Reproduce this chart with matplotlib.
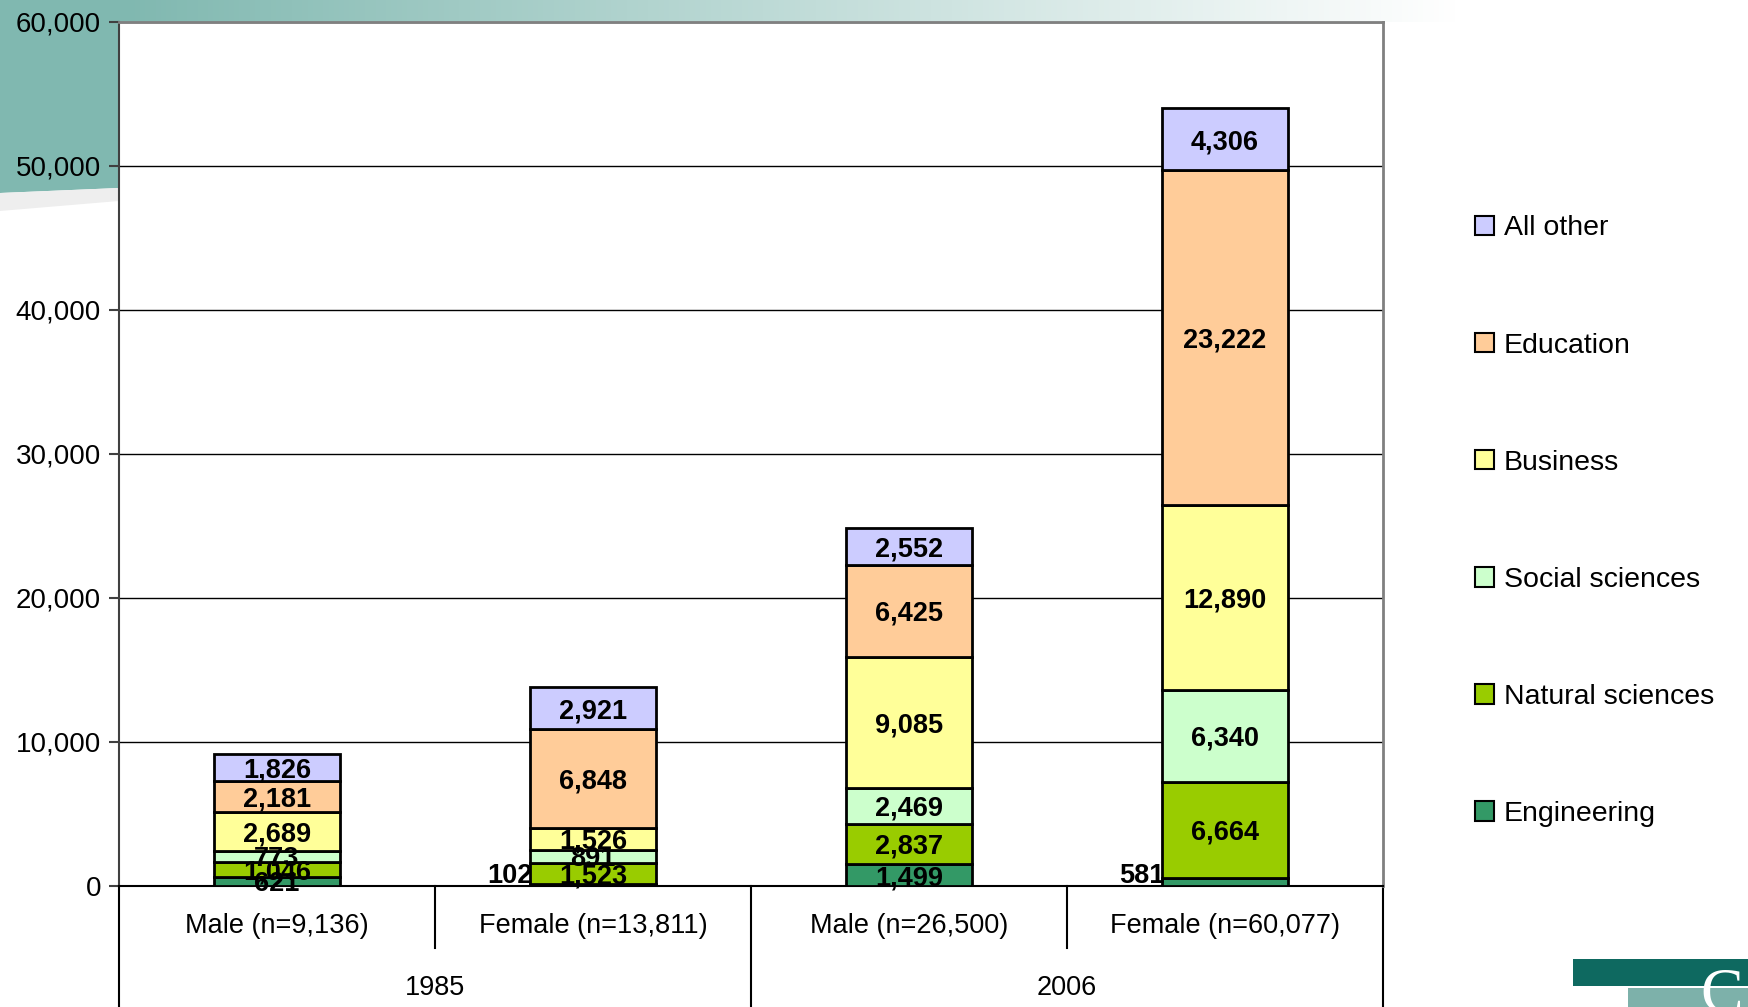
import numpy as np
import matplotlib
matplotlib.use('Agg')
import matplotlib.pyplot as plt
from matplotlib.colors import LinearSegmentedColormap
from matplotlib.patches import Polygon, Rectangle

plt.rcParams['font.family'] = ['Liberation Sans', 'DejaVu Sans']

# data
groups = ['Male (n=9,136)', 'Female (n=13,811)', 'Male (n=26,500)', 'Female (n=60,077)']
years = ['1985', '2006']
fields = ['Engineering', 'Natural sciences', 'Social sciences', 'Business', 'Education', 'All other']
engineering = [621, 102, 1499, 581]
natural = [1046, 1523, 2837, 6664]
social = [773, 891, 2469, 6340]
business = [2689, 1526, 9085, 12890]
education = [2181, 6848, 6425, 23222]
other = [1826, 2921, 2552, 4306]
colors = ['#339966', '#99CC00', '#CCFFCC', '#FFFF99', '#FFCC99', '#CCCCFF']
# the tiny engineering labels sit left of the bar
eng_outside = [False, True, False, True]

fig = plt.figure(figsize=(17.49, 10.07), dpi=100)

# background decoration (pixel coords)
bg = fig.add_axes([0, 0, 1, 1], zorder=-10)
cmap = LinearSegmentedColormap.from_list('band', ['#80B8B0', '#FFFFFF'])
bg.imshow(np.linspace(0, 1, 256).reshape(1, -1), cmap=cmap, extent=[119, 1460, 22, 0], aspect='auto')
bg.add_patch(Polygon([(0, 0), (119, 0), (119, 188), (0, 193)], color='#80B8B0', lw=0))
bg.add_patch(Polygon([(0, 193), (119, 188), (119, 201), (0, 211)], color='#EEEEEE', lw=0))
bg.add_patch(Rectangle((1573, 959), 176, 27, color='#0E6960', lw=0))
bg.add_patch(Rectangle((1628, 988), 121, 19, color='#7DB1AA', lw=0))
bg.text(1700, 1012, 'C', color='white', fontsize=46, family='Liberation Serif', va='baseline')
bg.set_xlim(0, 1749)
bg.set_ylim(1007, 0)
bg.axis('off')

ax = fig.add_axes([0.0680, 0.1202, 0.7227, 0.8580], zorder=1)
ax.set_facecolor('white')

x = np.arange(len(groups))
bottom = np.zeros(len(groups))
series = [engineering, natural, social, business, education, other]
for vals, name, c in zip(series, fields, colors):
    ax.bar(x, vals, 0.4, bottom=bottom, color=c, edgecolor='black', linewidth=2, label=name, zorder=3)
    for i, v in enumerate(vals):
        txt = f'{v:,}'
        if name == 'Engineering' and eng_outside[i]:
            ax.annotate(txt, (x[i] - 0.2, 0), xytext=(2, 2), textcoords='offset points',
                        ha='right', va='baseline', fontsize=19.5, fontweight='bold', zorder=4)
        else:
            ax.text(x[i], bottom[i] + v / 2, txt, ha='center', va='center_baseline',
                    fontsize=19.5, fontweight='bold', zorder=4)
    bottom += np.array(vals)

ax.set_xlim(-0.5, 3.5)
ax.set_ylim(0, 60000)
ax.set_yticks(np.arange(0, 60001, 10000))
ax.yaxis.set_major_formatter(matplotlib.ticker.StrMethodFormatter('{x:,.0f}'))
ax.tick_params(axis='y', labelsize=20, length=7, width=1.5, color='#404040', pad=6)
ax.set_xticks([])
ax.yaxis.grid(True, color='black', lw=1)
ax.set_axisbelow(True)

ax.spines['left'].set_color('#404040')
ax.spines['left'].set_linewidth(1.5)
ax.spines['bottom'].set_color('black')
ax.spines['bottom'].set_linewidth(1.5)
ax.spines['top'].set_color('#808080')
ax.spines['top'].set_linewidth(2)
ax.spines['right'].set_color('#808080')
ax.spines['right'].set_linewidth(2)

# two-level category axis
tr = ax.get_xaxis_transform()
for xs in [-0.5, 1.5, 3.5]:
    ax.plot([xs, xs], [0, -0.15], color='black', lw=1.5, transform=tr, clip_on=False)
for xs in [0.5, 2.5]:
    ax.plot([xs, xs], [0, -0.0718], color='black', lw=1.5, transform=tr, clip_on=False)
for i, g in enumerate(groups):
    ax.text(x[i], -0.0463, g, transform=tr, ha='center', va='center', fontsize=19.5)
for j, yr in enumerate(years):
    ax.text(2 * j + 0.5, -0.118, yr, transform=tr, ha='center', va='center', fontsize=19.5)

handles, labels = ax.get_legend_handles_labels()
leg = fig.legend(handles[::-1], labels[::-1], loc='upper left', bbox_to_anchor=(0.8433, 0.786),
                 frameon=False, fontsize=20.5, borderpad=0, borderaxespad=0,
                 handlelength=0.67, handleheight=0.67, handletextpad=0.35, labelspacing=3.2)
for h in leg.legend_handles:
    h.set_linewidth(1.5)

fig.savefig('out.png', dpi=100)
